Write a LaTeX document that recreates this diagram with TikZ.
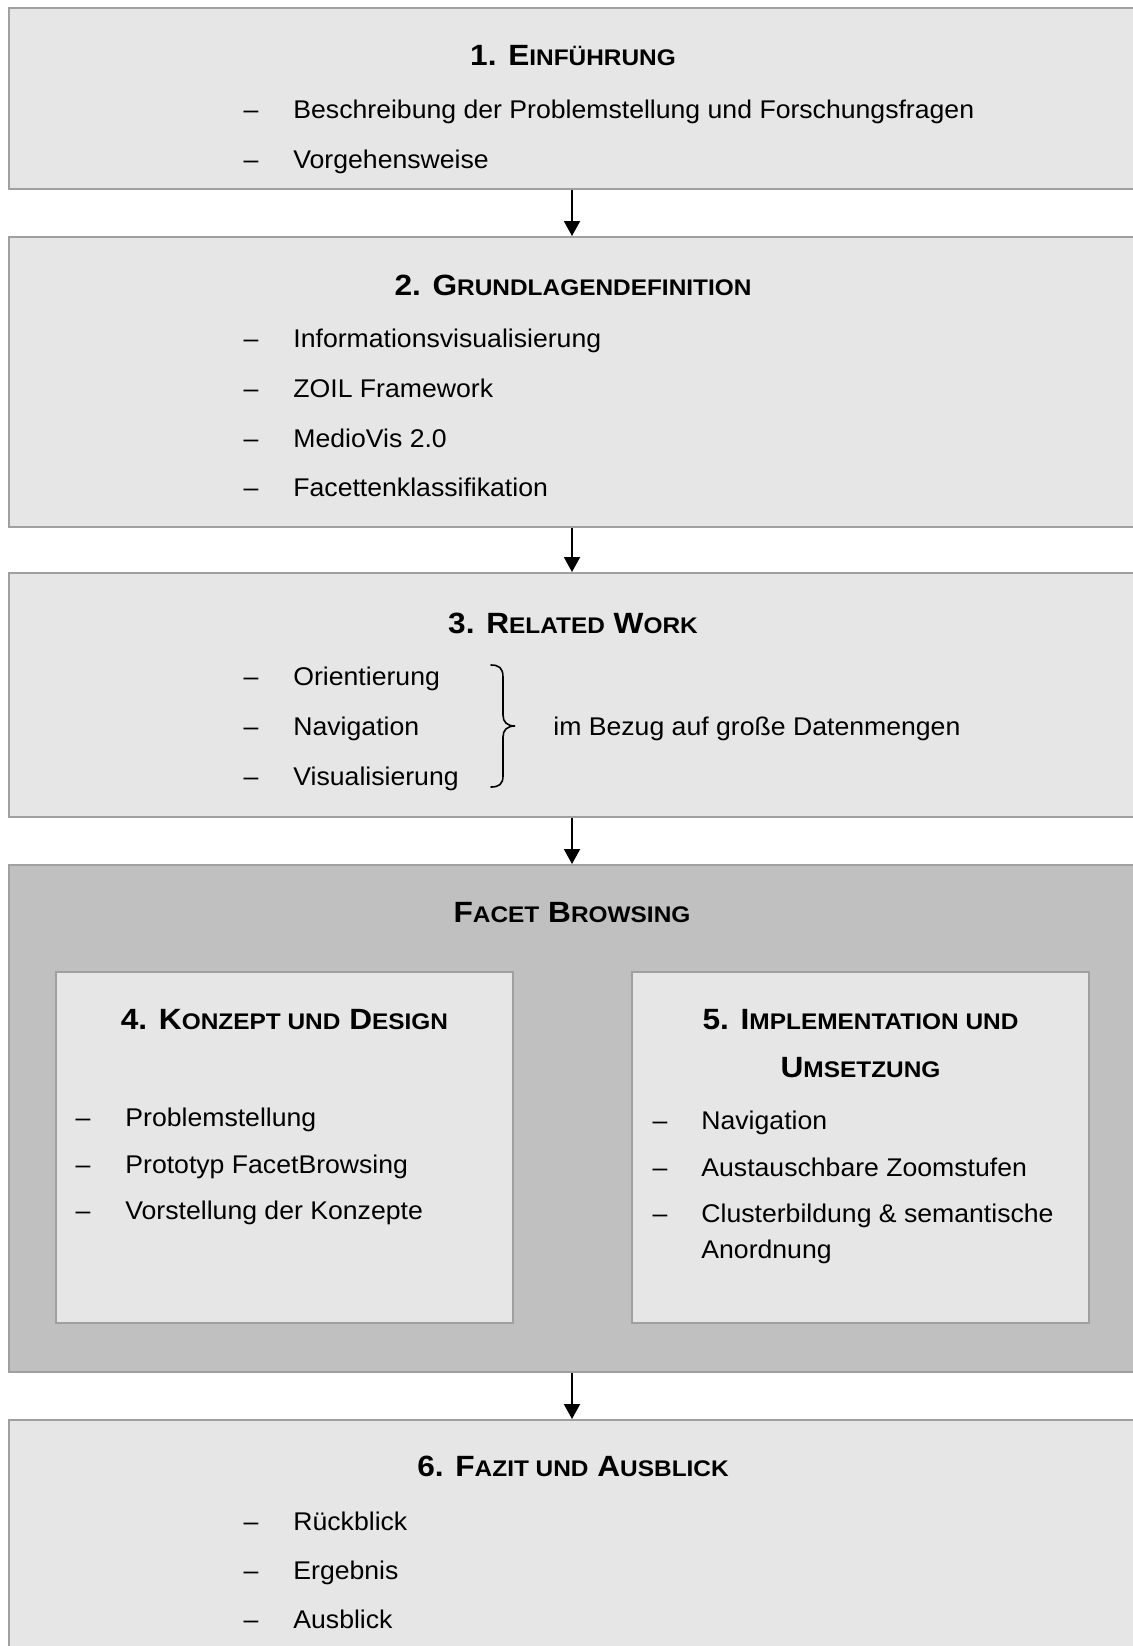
\documentclass[tikz,border=0pt]{standalone}
\usepackage{fontspec}
\setmainfont[FakeStretch=1.04]{Liberation Sans}
\newfontfamily\titlefont[FakeStretch=1.08]{Liberation Sans}
\usetikzlibrary{arrows.meta}
\definecolor{boxgray}{RGB}{230,230,230}
\definecolor{facetgray}{RGB}{192,192,192}
\definecolor{bordergray}{RGB}{160,160,160}
\newcommand\tsc[1]{{\fontsize{11.3}{13}\selectfont #1}}
\tikzset{
  box/.style={draw=bordergray, fill=boxgray, line width=1pt, inner sep=0pt},
  fbox/.style={draw=bordergray, fill=facetgray, line width=1pt, inner sep=0pt},
  ttl/.style={anchor=base, inner sep=0pt, font=\titlefont\bfseries\fontsize{14.65}{17}\selectfont},
  itm/.style={anchor=base west, inner sep=0pt, font=\fontsize{12.8}{15}\selectfont},
  dsh/.style={anchor=base, inner sep=0pt, font=\fontsize{12.8}{15}\selectfont},
  arr/.style={line width=1pt, -{Triangle[length=7.5pt,width=8pt]}},
  brc/.style={line width=0.8pt, line cap=round}
}
\begin{document}
\begin{tikzpicture}[x=0.5pt, y=-0.5pt]
\useasboundingbox (0,0) rectangle (1133,1646);
\clip (0,0) rectangle (1133,1646);
% boxes
\node[box, minimum width=563pt, minimum height=90.5pt] (b1) at (572,98.5) {};
\node[box, minimum width=563pt, minimum height=145pt] (b2) at (572,382) {};
\node[box, minimum width=563pt, minimum height=122pt] (b3) at (572,695) {};
\node[fbox, minimum width=563pt, minimum height=253.5pt] (fb) at (572,1118.5) {};
\node[box, minimum width=228.5pt, minimum height=175.5pt] (b4) at (284.5,1147.5) {};
\node[box, minimum width=228.5pt, minimum height=175.5pt] (b5) at (860.5,1147.5) {};
\node[box, minimum width=563pt, minimum height=120pt] (b6) at (572,1540) {};
% arrows
\draw[arr] (b1.south) -- (b2.north);
\draw[arr] (b2.south) -- (b3.north);
\draw[arr] (b3.south) -- (fb.north);
\draw[arr] (fb.south) -- (b6.north);
% box 1
\node[ttl] (t1) at (573,65) {1. E\tsc{INFÜHRUNG}};
\node[dsh] (d11) at (251,118) {–};
\node[itm] (i11) at (293,118) {Beschreibung der Problemstellung und Forschungsfragen};
\node[dsh] (d12) at (251,168) {–};
\node[itm] (i12) at (293,168) {Vorgehensweise};
% box 2
\node[ttl] (t2) at (573,295) {2. G\tsc{RUNDLAGENDEFINITION}};
\node[dsh] (d21) at (251,347) {–};
\node[itm] (i21) at (293,347) {Informationsvisualisierung};
\node[dsh] (d22) at (251,397) {–};
\node[itm] (i22) at (293,397) {ZOIL Framework};
\node[dsh] (d23) at (251,447) {–};
\node[itm] (i23) at (293,447) {MedioVis 2.0};
\node[dsh] (d24) at (251,496) {–};
\node[itm] (i24) at (293,496) {Facettenklassifikation};
% box 3
\node[ttl] (t3) at (573,633) {3. R\tsc{ELATED} W\tsc{ORK}};
\node[dsh] (d31) at (251,685) {–};
\node[itm] (i31) at (293,685) {Orientierung};
\node[dsh] (d32) at (251,735) {–};
\node[itm] (i32) at (293,735) {Navigation};
\node[dsh] (d33) at (251,785) {–};
\node[itm] (i33) at (293,785) {Visualisierung};
\draw[brc] (491,665) .. controls (499,665) and (503,668) .. (503,677)
  -- (503,715) .. controls (503,722) and (507,726) .. (515,726)
  .. controls (507,726) and (503,730) .. (503,737)
  -- (503,776) .. controls (503,784) and (499,787) .. (491,787);
\node[itm] (i34) at (553,735) {im Bezug auf große Datenmengen};
% facet
\node[ttl] (tf) at (572,922) {F\tsc{ACET} B\tsc{ROWSING}};
% box 4
\node[ttl] (t4) at (284.5,1029) {4. K\tsc{ONZEPT UND} D\tsc{ESIGN}};
\node[dsh] (d41) at (83,1126) {–};
\node[itm] (i41) at (125,1126) {Problemstellung};
\node[dsh] (d42) at (83,1173) {–};
\node[itm] (i42) at (125,1173) {Prototyp FacetBrowsing};
\node[dsh] (d43) at (83,1219) {–};
\node[itm] (i43) at (125,1219) {Vorstellung der Konzepte};
% box 5
\node[ttl] (t5a) at (860.5,1029) {5. I\tsc{MPLEMENTATION UND}};
\node[ttl] (t5b) at (860.5,1077) {U\tsc{MSETZUNG}};
\node[dsh] (d51) at (660,1129) {–};
\node[itm] (i51) at (701,1129) {Navigation};
\node[dsh] (d52) at (660,1176) {–};
\node[itm] (i52) at (701,1176) {Austauschbare Zoomstufen};
\node[dsh] (d53) at (660,1222) {–};
\node[itm] (i53) at (701,1222) {Clusterbildung \& semantische};
\node[itm] (i54) at (701,1258) {Anordnung};
% box 6
\node[ttl] (t6) at (573,1476) {6. F\tsc{AZIT UND} A\tsc{USBLICK}};
\node[dsh] (d61) at (251,1530) {–};
\node[itm] (i61) at (293,1530) {Rückblick};
\node[dsh] (d62) at (251,1579) {–};
\node[itm] (i62) at (293,1579) {Ergebnis};
\node[dsh] (d63) at (251,1628) {–};
\node[itm] (i63) at (293,1628) {Ausblick};
\end{tikzpicture}
\end{document}
